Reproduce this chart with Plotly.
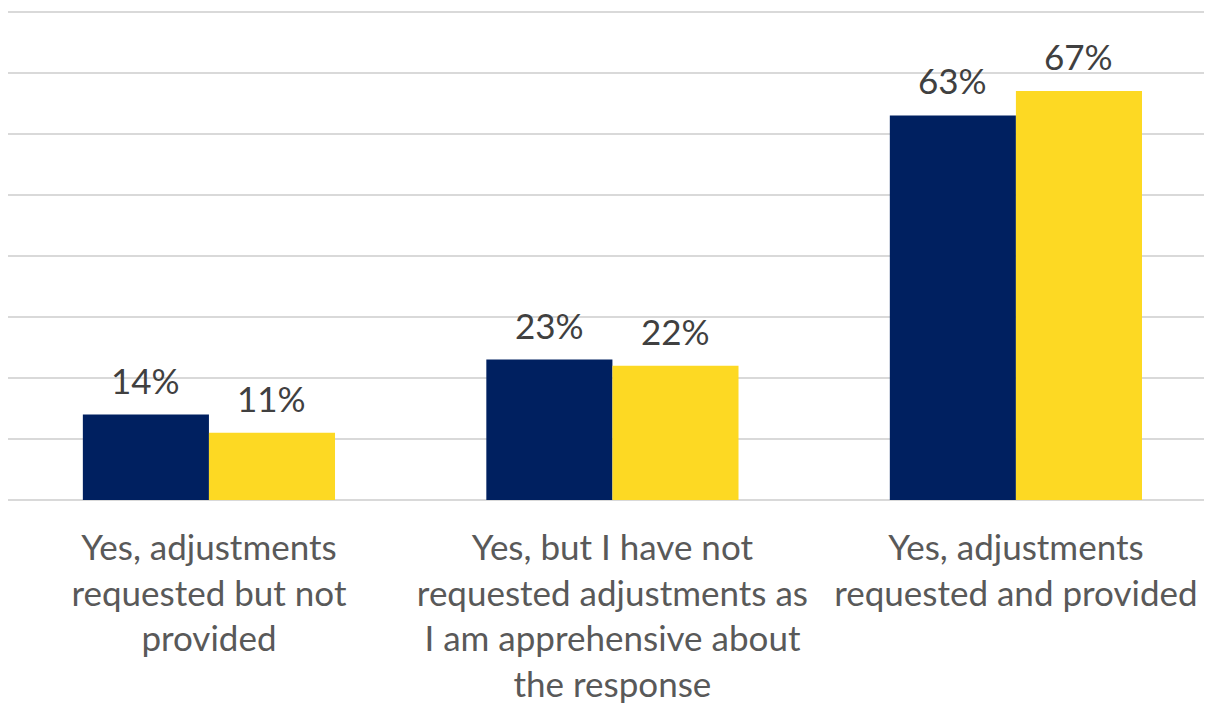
import plotly.graph_objects as go

categories = [
    "Yes, adjustments<br>requested but not<br>provided",
    "Yes, but I have not<br>requested adjustments as<br>I am apprehensive about<br>the response",
    "Yes, adjustments<br>requested and provided",
]
series_a = [14, 23, 63]
series_b = [11, 22, 67]
labels_a = ["14%", "23%", "63%"]
labels_b = ["11%", "22%", "67%"]

FONT = "Lato"
TXT = "#595959"
LBL = "#404040"

x = [0, 1, 2]
fig = go.Figure()
fig.add_trace(go.Bar(x=x, y=series_a, marker=dict(color="#002060", line=dict(width=0)), name="A"))
fig.add_trace(go.Bar(x=x, y=series_b, marker=dict(color="#FDD923", line=dict(width=0)), name="B"))

annotations = []
for i in range(len(x)):
    for val, lab, shift in ((series_a[i], labels_a[i], -63), (series_b[i], labels_b[i], 63)):
        annotations.append(dict(x=x[i], y=val, text=lab, xref="x", yref="y",
                                xshift=shift, yshift=12, yanchor="bottom", xanchor="center",
                                showarrow=False, font=dict(family=FONT, size=35, color=LBL)))

fig.update_layout(
    width=1204, height=695,
    margin=dict(l=0, r=0, t=0, b=203, pad=0),
    paper_bgcolor="white", plot_bgcolor="white",
    barmode="group", bargap=0.375, bargroupgap=0,
    showlegend=False,
    font=dict(family=FONT, color=TXT),
    annotations=annotations,
)
fig.update_xaxes(
    range=[-0.498, 2.486], tickmode="array", tickvals=x, ticktext=categories,
    tickfont=dict(family=FONT, size=35, color=TXT), tickangle=0,
    showgrid=False, zeroline=False, showline=False, ticks="",
    ticklabelstandoff=24,
)
fig.update_yaxes(
    range=[0, 80.6], tickvals=[10, 20, 30, 40, 50, 60, 70, 80], showgrid=True,
    gridcolor="#D9D9D9", gridwidth=2,
    showticklabels=False, zeroline=True, zerolinecolor="#D9D9D9", zerolinewidth=2,
)

fig.write_html("out.html")
